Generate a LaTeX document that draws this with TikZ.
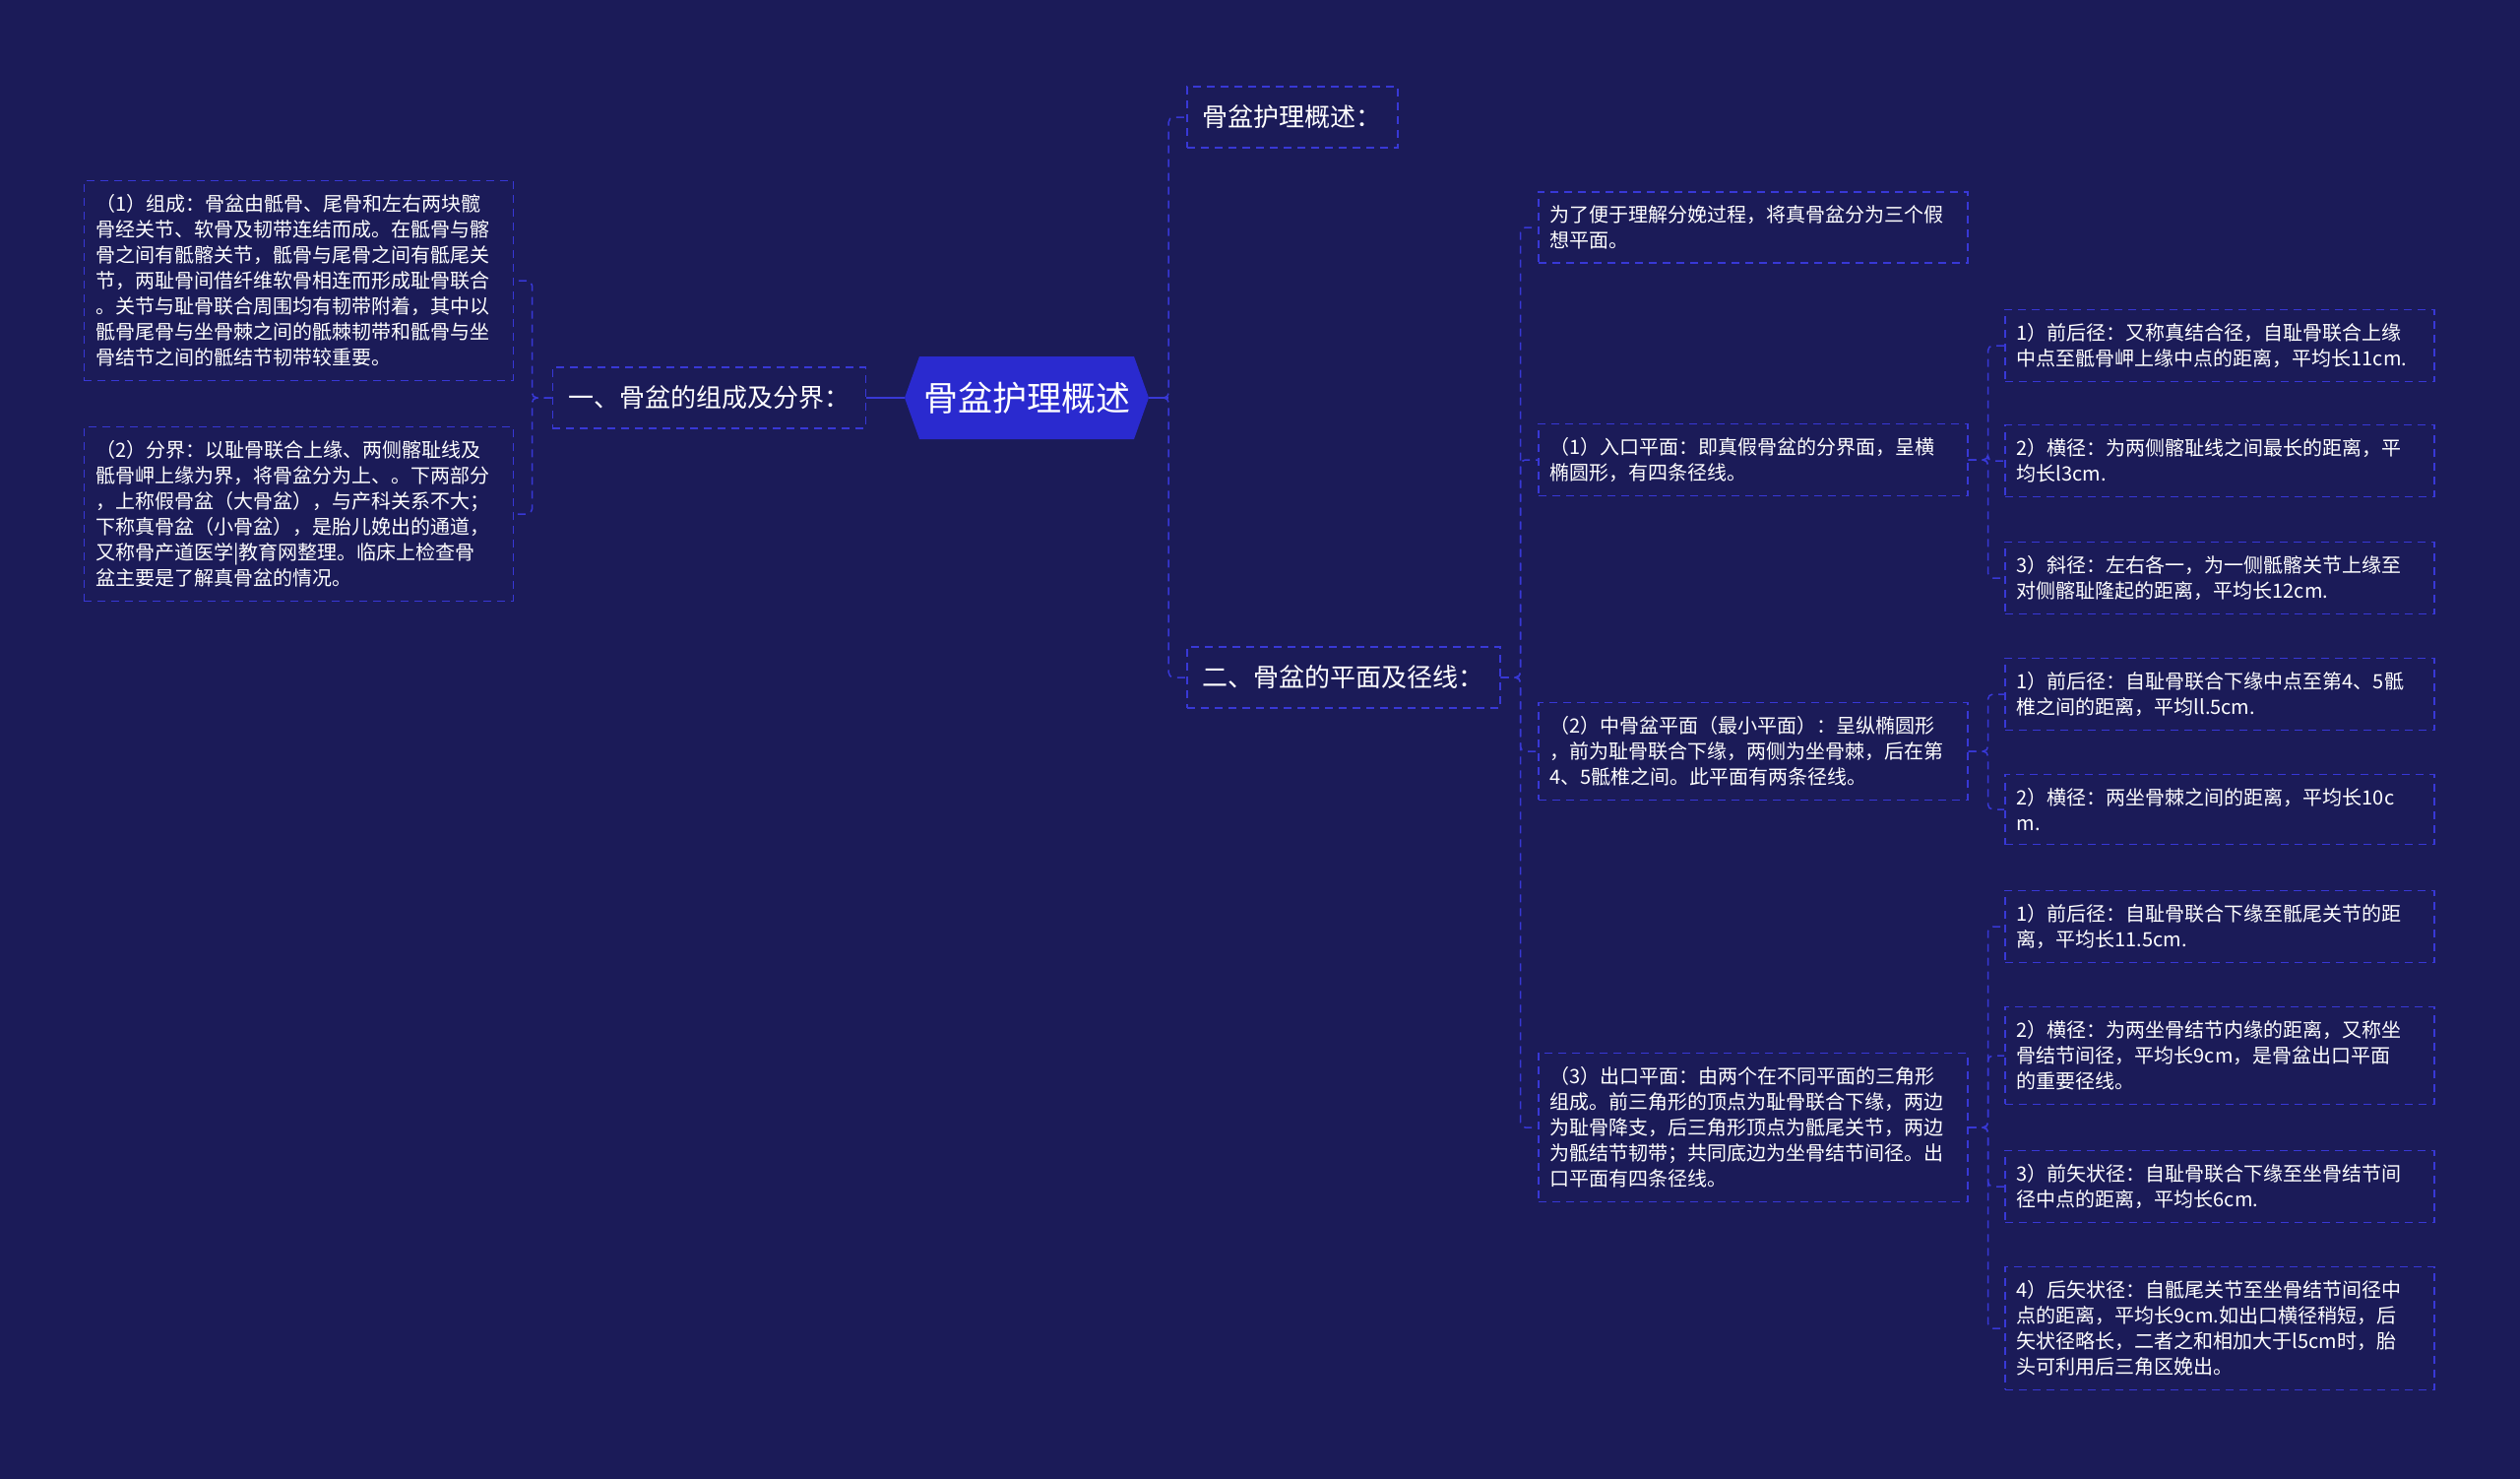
\documentclass[tikz,border=0pt]{standalone}
\usepackage{fontspec}
\newfontfamily\cjk{Noto Sans CJK SC}
\definecolor{bgnavy}{RGB}{27,27,88}
\definecolor{rootblue}{RGB}{42,42,207}
\definecolor{linkblue}{RGB}{56,56,214}
\begin{document}
\begin{tikzpicture}[x=1pt,y=-1pt,
        leaf/.style={draw=linkblue,line width=1.5pt,dash pattern=on 8pt off 6pt,text=white,
            font=\cjk\fontsize{20}{26}\selectfont,text width=412pt,inner xsep=12pt,inner ysep=14pt,align=left},
        branch/.style={draw=linkblue,line width=1.5pt,dash pattern=on 8pt off 6pt,text=white,
            font=\cjk\fontsize{26}{30}\selectfont,inner xsep=16pt,minimum height=62pt},
        link/.style={linkblue,line width=1.5pt,dash pattern=on 8pt off 6pt,rounded corners=5pt},
        stem/.style={linkblue,line width=2pt}]
        \fill[bgnavy] (0,0) rectangle (2560,1502);
        \fill[rootblue] (919,404)--(934,362)--(1152,362)--(1167,404)--(1152,446)--(934,446)--cycle;
        \node[text=white,font=\cjk\fontsize{35}{40}\selectfont,minimum width=248pt,minimum height=84pt] (root) at (1043,404){骨盆护理概述};
        \node[branch,anchor=east] (left) at (880,404){一、骨盆的组成及分界：};
        \node[branch,anchor=west] (top) at (1205,119){骨盆护理概述：};
        \node[branch,anchor=west] (plane) at (1205,688){二、骨盆的平面及径线：};
        \node[leaf,anchor=east] (make) at (522,285){（1）组成：骨盆由骶骨、尾骨和左右两块髋\\骨经关节、软骨及韧带连结而成。在骶骨与髂\\骨之间有骶髂关节，骶骨与尾骨之间有骶尾关\\节，两耻骨间借纤维软骨相连而形成耻骨联合\\。关节与耻骨联合周围均有韧带附着，其中以\\骶骨尾骨与坐骨棘之间的骶棘韧带和骶骨与坐\\骨结节之间的骶结节韧带较重要。};
        \node[leaf,anchor=east] (bound) at (522,522){（2）分界：以耻骨联合上缘、两侧髂耻线及\\骶骨岬上缘为界，将骨盆分为上、。下两部分\\，上称假骨盆（大骨盆），与产科关系不大；\\下称真骨盆（小骨盆），是胎儿娩出的通道，\\又称骨产道医学|教育网整理。临床上检查骨\\盆主要是了解真骨盆的情况。};
        \node[leaf,anchor=west] (intro) at (1562,231){为了便于理解分娩过程，将真骨盆分为三个假\\想平面。};
        \node[leaf,anchor=west] (inlet) at (1562,467){（1）入口平面：即真假骨盆的分界面，呈横\\椭圆形，有四条径线。};
        \node[leaf,anchor=west] (mid) at (1562,763){（2）中骨盆平面（最小平面）：呈纵椭圆形\\，前为耻骨联合下缘，两侧为坐骨棘，后在第\\4、5骶椎之间。此平面有两条径线。};
        \node[leaf,anchor=west] (outlet) at (1562,1145){（3）出口平面：由两个在不同平面的三角形\\组成。前三角形的顶点为耻骨联合下缘，两边\\为耻骨降支，后三角形顶点为骶尾关节，两边\\为骶结节韧带；共同底边为坐骨结节间径。出\\口平面有四条径线。};
        \node[leaf,anchor=west] (in1) at (2036,351){1）前后径：又称真结合径，自耻骨联合上缘\\中点至骶骨岬上缘中点的距离，平均长11cm.};
        \node[leaf,anchor=west] (in2) at (2036,468){2）横径：为两侧髂耻线之间最长的距离，平\\均长l3cm.};
        \node[leaf,anchor=west] (in3) at (2036,587){3）斜径：左右各一，为一侧骶髂关节上缘至\\对侧髂耻隆起的距离，平均长12cm.};
        \node[leaf,anchor=west] (mid1) at (2036,705){1）前后径：自耻骨联合下缘中点至第4、5骶\\椎之间的距离，平均ll.5cm.};
        \node[leaf,anchor=west] (mid2) at (2036,822){2）横径：两坐骨棘之间的距离，平均长10c\\m.};
        \node[leaf,anchor=west] (out1) at (2036,941){1）前后径：自耻骨联合下缘至骶尾关节的距\\离，平均长11.5cm.};
        \node[leaf,anchor=west] (out2) at (2036,1072){2）横径：为两坐骨结节内缘的距离，又称坐\\骨结节间径，平均长9cm，是骨盆出口平面\\的重要径线。};
        \node[leaf,anchor=west] (out3) at (2036,1205){3）前矢状径：自耻骨联合下缘至坐骨结节间\\径中点的距离，平均长6cm.};
        \node[leaf,anchor=west] (out4) at (2036,1349){4）后矢状径：自骶尾关节至坐骨结节间径中\\点的距离，平均长9cm.如出口横径稍短，后\\矢状径略长，二者之和相加大于l5cm时，胎\\头可利用后三角区娩出。};
        \draw[stem] (root.west)--(left.east);
        \draw[stem] (root.east)--++(20,0);
        \foreach \c in {make,bound}
        {
            \draw[link] (left.west)--++(-20,0)|-(\c.east);
        }
        \foreach \c in {top,plane}
        {
            \draw[link] (root.east)--++(20,0)|-(\c.west);
        }
        \foreach \c in {intro,inlet,mid,outlet}
        {
            \draw[link] (plane.east)--++(20,0)|-(\c.west);
        }
        \foreach \c in {in1,in2,in3}
        {
            \draw[link] (inlet.east)--++(20,0)|-(\c.west);
        }
        \foreach \c in {mid1,mid2}
        {
            \draw[link] (mid.east)--++(20,0)|-(\c.west);
        }
        \foreach \c in {out1,out2,out3,out4}
        {
            \draw[link] (outlet.east)--++(20,0)|-(\c.west);
        }
    \end{tikzpicture}
\end{document}
